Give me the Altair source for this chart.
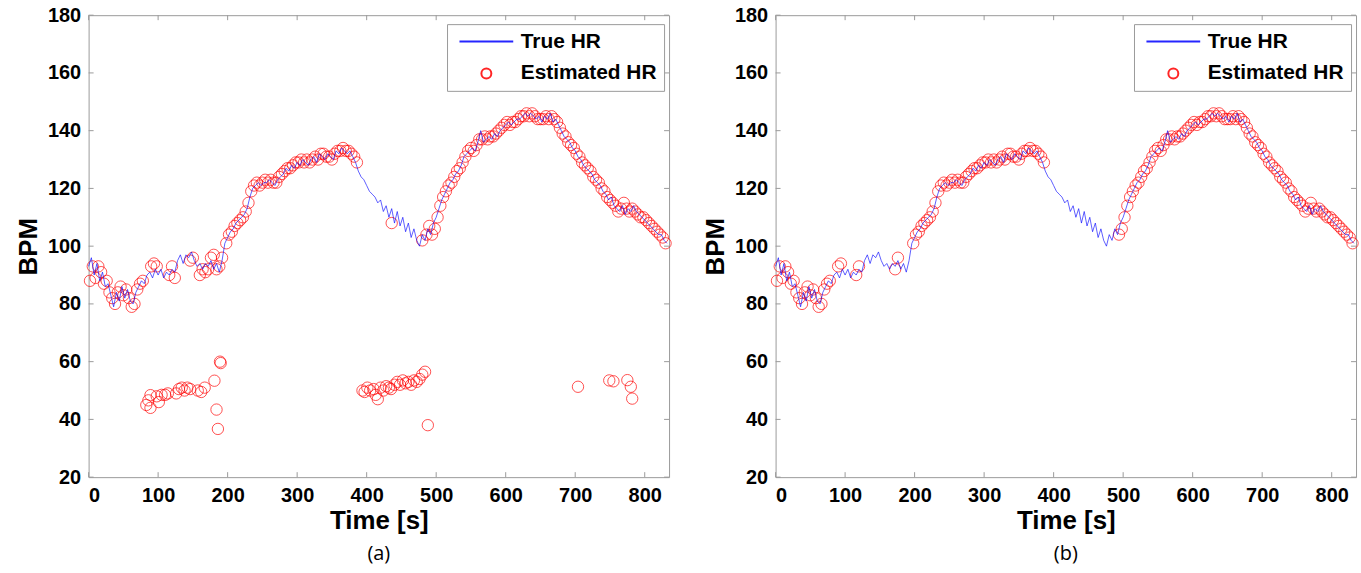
import altair as alt
import pandas as pd

# ---------------- data ----------------
SERIES = ["True HR", "Estimated HR"]

true_t = list(range(0, 833, 4))
true_hr = [
    93, 96, 90, 94, 88, 91, 86, 87, 83, 79,
    84, 81, 86, 82, 85, 81, 80, 84, 86, 88,
    87, 90, 91, 89, 92, 90, 92, 89, 91, 90,
    92, 91, 95, 97, 94, 97, 96, 98, 95, 93,
    94, 92, 94, 93, 95, 92, 94, 91, 95, 101,
    103, 105, 106, 108, 109, 110, 111, 113, 117,
    120, 121, 122, 121, 122, 122, 123, 122, 121, 123,
    124, 125, 127, 126, 128, 127, 129, 128, 130, 129,
    128, 130, 131, 129, 132, 131, 130, 132, 131, 130,
    133, 132, 134, 133, 132, 133, 131, 129, 126, 124,
    123, 121, 119, 118, 117, 115, 116, 112, 114, 110,
    113, 108, 112, 107, 110, 105, 108, 103, 106, 102,
    100, 104, 102, 106, 104, 108, 110, 113, 116, 118,
    120, 122, 123, 125, 126, 128, 131, 132, 133, 134,
    133, 136, 140, 136, 137, 138, 137, 139, 138, 140,
    141, 142, 143, 142, 143, 144, 144, 145, 146, 145,
    146, 145, 144, 145, 143, 145, 144, 146, 143, 144,
    142, 140, 138, 137, 136, 134, 133, 131, 130, 128,
    127, 126, 125, 123, 122, 121, 119, 118, 116, 117,
    114, 113, 112, 114, 111, 113, 112, 114, 112, 111,
    110, 109, 108, 107, 106, 105, 104, 104, 102, 101,
]
assert len(true_t) == len(true_hr)

# estimated HR on the track (shared by both panels)
seg1_t = [2, 6, 10, 14, 18, 22, 26, 30, 34, 38, 42, 46, 50, 54, 58, 62, 66, 70, 74, 78]
seg1_v = [88, 93, 89, 93, 91, 87, 88, 84, 82, 80, 84, 86, 83, 85, 82, 79, 80, 85, 87, 88]

seg2_t = [90, 94, 116, 120, 172, 176]
seg2_v = [93, 94, 90, 93, 92, 96]

seg3_t = list(range(198, 387, 4))
seg3_v = [
    101, 104, 105, 107, 108, 109, 110, 112, 115, 119,
    121, 122, 121, 122, 123, 122, 123, 122, 122, 124,
    125, 126, 127, 127, 128, 129, 129, 130, 129, 130,
    129, 130, 131, 130, 132, 132, 131, 131, 130, 132,
    133, 133, 134, 133, 133, 132, 131, 129,
]
seg4_t = list(range(494, 831, 4))
seg4_v = [
    104, 106, 110, 114, 117, 119, 121, 122, 124, 126,
    127, 129, 131, 133, 134, 133, 135, 137, 137, 138,
    137, 138, 138, 139, 140, 141, 142, 143, 142, 143,
    143, 144, 145, 145, 146, 145, 146, 145, 144, 144,
    144, 145, 144, 145, 144, 143, 141, 139, 138, 136,
    135, 134, 132, 131, 129, 128, 127, 126, 124, 123,
    122, 120, 119, 117, 116, 115, 114, 112, 113, 115,
    113, 112, 113, 112, 111, 110, 110, 109, 108, 107,
    106, 105, 104, 103, 101,
]
assert len(seg3_t) == len(seg3_v) and len(seg4_t) == len(seg4_v)

# extra track estimates that only panel (a) has
a_extra_t = [98, 124, 146, 150, 160, 164, 168, 180, 184, 188, 192, 436, 480, 486, 490]
a_extra_v = [93, 89, 95, 96, 90, 92, 91, 97, 92, 93, 96, 108, 102, 104, 107]

# erroneous (harmonic) estimates of panel (a)
out_t = [83, 86, 89, 89, 98, 101, 105, 110, 114, 126, 130, 134, 138, 142, 146, 157, 162, 167,
         181, 184, 186, 189, 190,
         394, 397, 401, 405, 410, 413, 416, 420, 424, 428, 432, 435, 440, 444, 448, 452, 456,
         460, 464, 468, 472, 476, 480, 484, 488,
         704, 749, 755, 775, 780, 782]
out_v = [45, 46.6, 44, 48.4, 48, 46, 48.5, 48.5, 49, 49, 50.5, 51, 50, 51, 50.5, 50, 49.5, 51,
         53.4, 43.4, 36.7, 60, 59.5,
         50, 49.5, 51, 50, 50.5, 48.5, 47, 51, 50, 51.5, 51, 50.5, 52, 53, 52, 53.5, 52.5,
         53, 52, 53.5, 53, 54, 55.5, 56.5, 38,
         51.3, 53.5, 53.2, 53.6, 51.3, 47.2]

x_ticks = [0, 100, 200, 300, 400, 500, 600, 700, 800]
y_ticks = [20, 40, 60, 80, 100, 120, 140, 160, 180]

# ---------------- chart ----------------
W, H = 583, 464
GRAY = "#9a9a9a"
FONT = "Liberation Sans"


def panel(est_t, est_v, caption):
    true_df = pd.DataFrame({"t": true_t, "bpm": true_hr, "series": "True HR"})
    est_df = pd.DataFrame({"t": est_t, "bpm": est_v, "series": "Estimated HR"})
    xt_df = pd.DataFrame({"t": x_ticks})
    yt_df = pd.DataFrame({"bpm": y_ticks})

    x = alt.X("t:Q", scale=alt.Scale(domain=[0, 835], nice=False, zero=False),
              axis=alt.Axis(values=x_ticks, title="Time [s]", labelPadding=8, titlePadding=3))
    y = alt.Y("bpm:Q", scale=alt.Scale(domain=[20, 180], nice=False, zero=False),
              axis=alt.Axis(values=y_ticks, title="BPM", labelPadding=8, titlePadding=6))
    leg = alt.Legend(title=None, orient="none", legendX=360, legendY=9, direction="vertical",
                     strokeColor=GRAY, fillColor="white", padding=7, rowPadding=10,
                     symbolSize=100, symbolStrokeWidth=2, symbolOffset=22, labelOffset=24,
                     labelFont=FONT, labelFontSize=21, labelFontWeight="bold", labelColor="black",
                     cornerRadius=0)
    color = alt.Color("series:N", scale=alt.Scale(domain=SERIES, range=["#0000ff", "#ff0000"]),
                      legend=leg)
    shape = alt.Shape("series:N", scale=alt.Scale(domain=SERIES, range=["M-5.4,0H5.4", "circle"]),
                      legend=leg)

    pts = alt.Chart(est_df).mark_point(filled=False, size=130).encode(
        x=x, y=y, color=color, shape=shape,
        strokeWidth=alt.value(0.8), opacity=alt.value(0.85))
    line = alt.Chart(true_df).mark_line().encode(
        x=x, y=y, color=color, strokeWidth=alt.value(0.7), opacity=alt.value(0.9))

    tb = alt.Chart(xt_df).mark_rule(color=GRAY).encode(x=x, y=alt.value(H), y2=alt.value(H - 5))
    tt = alt.Chart(xt_df).mark_rule(color=GRAY).encode(x=x, y=alt.value(0), y2=alt.value(5))
    tl = alt.Chart(yt_df).mark_rule(color=GRAY).encode(y=y, x=alt.value(0), x2=alt.value(5))
    tr = alt.Chart(yt_df).mark_rule(color=GRAY).encode(y=y, x=alt.value(W), x2=alt.value(W - 5))

    return alt.layer(pts, line, tb, tt, tl, tr).properties(
        width=W, height=H,
        title=alt.TitleParams(caption, orient="bottom", anchor="middle", frame="group",
                              font="Open Sans", fontSize=20, fontWeight="normal",
                              color="black", offset=10),
    )


pa = panel(seg1_t + seg2_t + a_extra_t + seg3_t + seg4_t + out_t,
           seg1_v + seg2_v + a_extra_v + seg3_v + seg4_v + out_v, "(a)")
pb = panel(seg1_t + seg2_t + seg3_t + seg4_t,
           seg1_v + seg2_v + seg3_v + seg4_v, "(b)")

chart = (
    alt.hconcat(pa, pb, spacing=28)
    .resolve_scale(color="independent", shape="independent")
    .properties(padding={"left": 15, "top": 3, "right": 0, "bottom": 0}, background="white")
    .configure_view(stroke=GRAY, strokeWidth=1)
    .configure_axis(domain=False, grid=False, ticks=False, tickSize=0,
                    labelFont=FONT, labelFontSize=20, labelFontWeight="bold", labelColor="black",
                    titleFont=FONT, titleFontSize=26, titleFontWeight="bold", titleColor="black")
)

chart.save("out.html", embed_options={"renderer": "svg", "actions": False})
